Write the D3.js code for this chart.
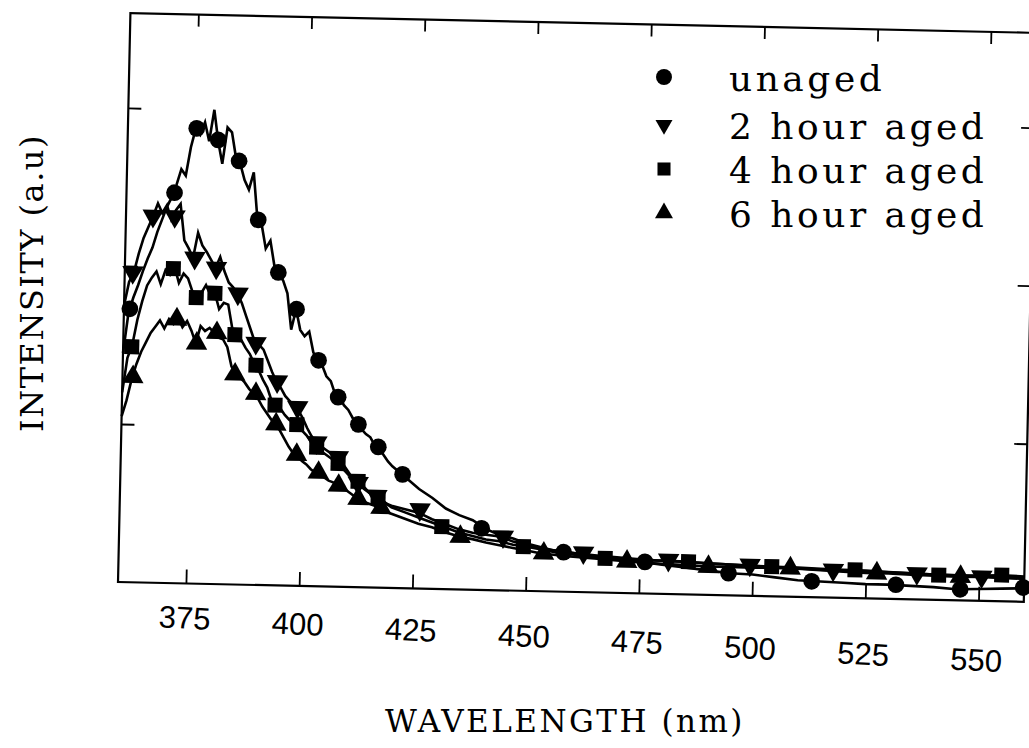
<!DOCTYPE html>
<html><head><meta charset="utf-8">
<script src="https://cdn.jsdelivr.net/npm/d3@7/dist/d3.min.js"></script>
<style>body{margin:0;background:#fff}svg{display:block}</style>
</head><body>
<svg id="chart" width="1029" height="748"></svg>
<script>
// ---------- data ----------
const seriesNames = ["unaged", "2 hour aged", "4 hour aged", "6 hour aged"];
const xTicks = [375, 400, 425, 450, 475, 500, 525, 550];
const yTicks = [1, 2, 3];
const xTitle = "WAVELENGTH (nm)";
const yTitle = "INTENSITY (a.u)";

const wavelengths = [
  360,361,362,363,364,365,366,367,368,369,
  370,371,372,373,374,375,376,377,378,379,
  380,381,382,383,384,385,386,387,388,389,
  390,391,392,393,394,395,396,397,398,399,
  400,401,402,403,404,405,406,407,408,409,
  410,411,412,413,414,415,416,417,418,419,
  420,
  423,426,429,432,435,438,441,444,447,450,453,456,459,
  465,470,475,480,485,490,495,500,505,510,515,520,525,530,535,540,545,550,555,560
];

const unaged = [
  1.45,1.70,1.80,1.88,1.97,2.05,2.12,2.22,2.30,2.38,
  2.44,2.52,2.62,2.58,2.76,2.88,2.84,2.92,2.80,3.00,
  2.80,2.66,2.89,2.86,2.70,2.66,2.56,2.50,2.61,2.32,
  2.28,2.13,2.18,2.02,1.97,1.93,1.85,1.62,1.75,1.62,
  1.58,1.61,1.48,1.43,1.40,1.33,1.30,1.22,1.20,1.15,
  1.12,1.07,1.04,1.00,0.97,0.95,0.90,0.88,0.84,0.80,
  0.77,
  0.70,0.63,0.575,0.51,0.47,0.44,0.385,0.35,0.33,0.30,0.28,0.26,0.25,
  0.23,0.215,0.20,0.185,0.17,0.155,0.14,0.135,0.12,0.105,0.10,0.095,0.09,0.09,0.085,0.08,0.07,0.075,0.08,0.085
];
const aged2h = [
  1.75,1.90,1.96,2.08,2.18,2.25,2.32,2.40,2.34,2.39,
  2.30,2.36,2.40,2.17,2.12,2.06,2.22,2.14,2.10,2.05,
  2.00,2.07,1.98,1.91,1.88,1.84,1.78,1.70,1.62,1.54,
  1.52,1.49,1.42,1.35,1.29,1.25,1.20,1.17,1.14,1.11,
  1.06,1.00,0.95,0.91,0.89,0.87,0.85,0.83,0.82,0.78,
  0.74,0.70,0.67,0.64,0.62,0.60,0.58,0.57,0.55,0.53,
  0.52,
  0.50,0.48,0.44,0.41,0.38,0.36,0.35,0.34,0.31,0.29,0.27,0.26,0.25,
  0.235,0.225,0.215,0.21,0.205,0.20,0.195,0.19,0.185,0.18,0.175,0.172,0.17,0.168,0.165,0.16,0.158,0.155,0.15,0.15
];
const aged4h = [
  1.20,1.42,1.50,1.66,1.78,1.88,1.93,1.97,1.89,1.98,
  1.95,2.00,1.90,1.96,1.93,1.85,1.80,1.84,1.89,1.83,
  1.84,1.74,1.78,1.77,1.62,1.57,1.55,1.50,1.46,1.40,
  1.36,1.30,1.25,1.17,1.14,1.12,1.08,1.05,1.03,1.01,
  0.98,0.95,0.91,0.89,0.86,0.84,0.82,0.80,0.78,0.75,
  0.72,0.69,0.67,0.65,0.63,0.60,0.59,0.57,0.55,0.53,
  0.51,
  0.48,0.45,0.42,0.39,0.36,0.34,0.32,0.31,0.29,0.28,0.265,0.25,0.24,
  0.225,0.215,0.21,0.21,0.207,0.20,0.195,0.19,0.187,0.185,0.18,0.178,0.175,0.17,0.165,0.16,0.158,0.16,0.165,0.16
];
const aged6h = [
  1.05,1.15,1.28,1.38,1.46,1.52,1.58,1.62,1.66,1.61,
  1.67,1.64,1.68,1.62,1.66,1.60,1.52,1.63,1.60,1.62,
  1.59,1.56,1.55,1.50,1.38,1.33,1.31,1.28,1.24,1.21,
  1.18,1.13,1.09,1.05,1.02,0.98,0.93,0.88,0.84,0.82,
  0.79,0.77,0.74,0.72,0.71,0.69,0.67,0.66,0.645,0.63,
  0.61,0.59,0.57,0.555,0.54,0.53,0.52,0.51,0.50,0.48,
  0.47,
  0.44,0.41,0.39,0.36,0.335,0.32,0.30,0.285,0.27,0.255,0.24,0.232,0.225,
  0.215,0.205,0.195,0.19,0.185,0.18,0.18,0.178,0.18,0.178,0.172,0.165,0.16,0.16,0.155,0.152,0.15,0.15,0.148,0.145
];

// marker positions [wavelength, intensity]
const unagedMarkers = [[361.3,1.73],[370.6,2.47],[375.2,2.88],[380.0,2.81],[384.7,2.68],[389.2,2.31],[393.9,1.98],[398.1,1.75],[403.2,1.43],[407.7,1.20],[412.3,1.03],[416.8,0.89],[422.3,0.72],[440.0,0.39],[458.2,0.25],[476.2,0.20],[494.7,0.14],[513.1,0.10],[531.7,0.09],[545.9,0.07],[559.8,0.09]];
const aged2hMarkers = [[361.8,1.96],[366.0,2.32],[370.8,2.32],[375.4,2.06],[380.2,2.00],[385.1,1.84],[389.3,1.53],[394.2,1.29],[398.8,1.13],[403.2,0.91],[408.0,0.82],[412.5,0.66],[416.7,0.58],[426.3,0.50],[444.8,0.34],[462.6,0.25],[481.4,0.215],[499.4,0.195],[517.8,0.175],[536.3,0.165],[550.6,0.153]];
const aged4hMarkers = [[361.9,1.49],[370.7,1.99],[375.9,1.81],[380.0,1.84],[384.6,1.58],[389.4,1.39],[393.8,1.14],[398.7,1.02],[403.2,0.88],[408.0,0.78],[412.5,0.67],[417.0,0.57],[431.2,0.395],[449.3,0.28],[467.4,0.217],[485.8,0.207],[504.2,0.187],[522.6,0.178],[541.1,0.157],[555.0,0.166]];
const aged6hMarkers = [[362.3,1.30],[371.7,1.67],[376.2,1.52],[380.6,1.59],[384.8,1.33],[389.5,1.21],[394.1,1.02],[398.8,0.83],[403.7,0.72],[408.2,0.64],[412.6,0.56],[417.7,0.505],[435.3,0.334],[453.8,0.24],[472.2,0.20],[490.2,0.178],[508.3,0.18],[527.4,0.16],[545.9,0.15]];

// ---------- drawing ----------
const W = 906, H = 569;
const x = d3.scaleLinear().domain([360, 560]).range([0, W]);
const y = d3.scaleLinear().domain([0, 3.6]).range([H, 0]);

const symbolFor = [
  {type: d3.symbolCircle,   size: 220, rot: 0,   lsize: 200},
  {type: d3.symbolTriangle, size: 200, rot: 180, lsize: 125},
  {type: d3.symbolSquare,   size: 225, rot: 0,   lsize: 170},
  {type: d3.symbolTriangle, size: 200, rot: 0,   lsize: 140}
];
const lines = [unaged, aged2h, aged4h, aged6h];
const markers = [unagedMarkers, aged2hMarkers, aged4hMarkers, aged6hMarkers];

const svg = d3.select("#chart");
svg.append("rect").attr("width", 1029).attr("height", 748).attr("fill", "#fff");

// the scanned page is slightly rotated
const g = svg.append("g")
  .attr("transform", "translate(118,582) rotate(1.25) translate(0,-569)");

const tickStyle = sel => {
  sel.select(".domain").remove();
  sel.selectAll(".tick line").attr("stroke", "#000").attr("stroke-width", 1.8);
};

// bottom ticks (inward)
g.append("g").attr("transform", `translate(0,${H})`)
  .call(d3.axisBottom(x).tickValues(xTicks).tickSize(-14).tickFormat(""))
  .call(tickStyle);

// bottom tick labels (the scan warps them slightly further down to the right)
g.append("g").attr("transform", `translate(0,${H}) rotate(1.8)`)
  .call(d3.axisBottom(x).tickValues(xTicks).tickSize(0).tickPadding(21).tickFormat(d3.format("d")))
  .call(s => s.select(".domain").remove())
  .call(s => s.selectAll("text")
    .attr("font-family", "'Liberation Sans', Arial, sans-serif")
    .attr("font-size", 31).attr("fill", "#000"));

g.append("g")
  .call(d3.axisTop(x).tickValues(xTicks).tickSize(-12).tickFormat(""))
  .call(tickStyle);

g.append("g")
  .call(d3.axisLeft(y).tickValues(yTicks).tickSize(-13).tickFormat(""))
  .call(tickStyle);

g.append("g").attr("transform", `translate(${W},0)`)
  .call(d3.axisRight(y).tickValues(yTicks).tickSize(-13).tickFormat(""))
  .call(tickStyle);

g.append("rect").attr("width", W).attr("height", H)
  .attr("fill", "none").attr("stroke", "#000").attr("stroke-width", 2.2);

const line = d3.line().x((d, i) => x(wavelengths[i])).y(d => y(d));
lines.forEach(vals => {
  g.append("path").datum(vals)
    .attr("d", line)
    .attr("fill", "none").attr("stroke", "#000")
    .attr("stroke-width", 2.6).attr("stroke-linejoin", "miter");
});

markers.forEach((pts, si) => {
  const s = symbolFor[si];
  const sym = d3.symbol().type(s.type).size(s.size);
  g.append("g").selectAll("path").data(pts).join("path")
    .attr("d", sym)
    .attr("transform", d => `translate(${x(d[0])},${y(d[1])}) rotate(${s.rot})`)
    .attr("fill", "#000");
});

// legend
const legendY = [77, 125, 169, 213];
const lg = svg.append("g");
seriesNames.forEach((name, i) => {
  const s = symbolFor[i];
  lg.append("path")
    .attr("d", d3.symbol().type(s.type).size(s.lsize))
    .attr("transform", `translate(664,${legendY[i]}) rotate(${s.rot})`)
    .attr("fill", "#000");
  lg.append("text")
    .attr("x", 729).attr("y", legendY[i] + 13.5)
    .attr("font-family", "'DejaVu Serif', serif")
    .attr("font-size", 36).attr("letter-spacing", 3.5)
    .attr("fill", "#000")
    .text(name);
});

// axis titles
svg.append("text")
  .attr("x", 565).attr("y", 732)
  .attr("text-anchor", "middle")
  .attr("font-family", "'DejaVu Serif', serif")
  .attr("font-size", 31).attr("letter-spacing", 2.5)
  .attr("fill", "#000")
  .text(xTitle);

svg.append("text")
  .attr("transform", "translate(43,283) rotate(-90)")
  .attr("text-anchor", "middle")
  .attr("font-family", "'DejaVu Serif', serif")
  .attr("font-size", 32).attr("letter-spacing", 1.5)
  .attr("fill", "#000")
  .text(yTitle);
</script>
</body></html>
